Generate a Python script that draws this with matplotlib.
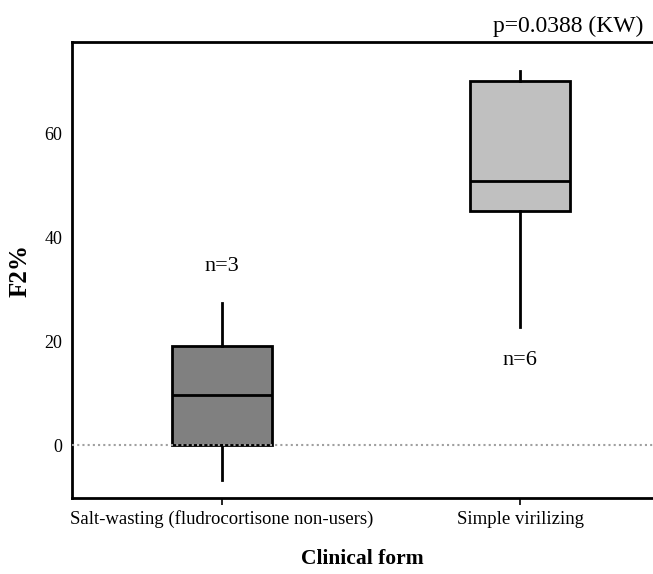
import matplotlib

matplotlib.use("Agg")
import matplotlib.pyplot as plt

# --- data --------------------------------------------------------------------
categories = ["Salt-wasting (fludrocortisone non-users)", "Simple virilizing"]
whis_lo = [-6.7, 22.7]
q1 = [0.0, 45.1]
median = [9.7, 50.9]
q3 = [19.0, 70.1]
whis_hi = [27.4, 72.0]
n_labels = ["n=3", "n=6"]
n_label_y = [34.3, 16.2]
box_colors = ["#808080", "#c0c0c0"]
p_text = "p=0.0388 (KW)"

plt.rcParams.update({
    "font.family": ["Liberation Serif", "DejaVu Serif"],
})

fig = plt.figure(figsize=(6.53, 5.74), dpi=100)
ax = fig.add_axes([0.1103, 0.1324, 0.8897, 0.7944])

stats = [
    dict(med=m, q1=a, q3=b, whislo=lo, whishi=hi, fliers=[], label=c)
    for c, lo, a, m, b, hi in zip(categories, whis_lo, q1, median, q3, whis_hi)
]
bp = ax.bxp(stats, positions=range(len(categories)), widths=0.336,
            patch_artist=True, showcaps=False, showfliers=False,
            boxprops=dict(linewidth=2, edgecolor="black"),
            medianprops=dict(color="black", linewidth=2),
            whiskerprops=dict(color="black", linewidth=2))
for patch, col in zip(bp["boxes"], box_colors):
    patch.set_facecolor(col)

ax.axhline(0, color="#a0a0a0", lw=1.5, ls=(0, (1, 1.5)), zorder=5)

for i, (lab, y) in enumerate(zip(n_labels, n_label_y)):
    ax.text(i, y, lab, ha="center", va="center", fontsize=16)

ax.text(0.854, 1.012, p_text, transform=ax.transAxes, ha="center", va="bottom",
        fontsize=17)

ax.set_xlim(-0.503, 1.446)
ax.set_ylim(-10.2, 77.6)
ax.set_yticks([0, 20, 40, 60])
ax.tick_params(axis="y", length=0, pad=7, labelsize=13)
ax.tick_params(axis="x", length=5, width=1.2, labelsize=13.5, pad=4)
ax.spines["right"].set_visible(False)
for s in ("top", "left", "bottom"):
    ax.spines[s].set_linewidth(2)

ax.set_xlabel("Clinical form", fontsize=15.5, fontweight="bold", labelpad=15)
ax.set_ylabel("F2%", fontsize=18, fontweight="bold", labelpad=9)

fig.savefig("out.png", dpi=100)
